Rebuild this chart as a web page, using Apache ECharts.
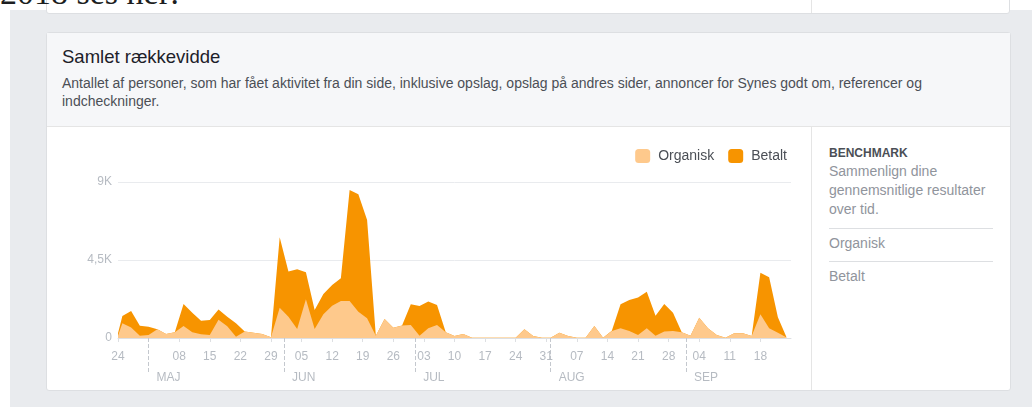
<!DOCTYPE html>
<html lang="da">
<head>
<meta charset="utf-8">
<title>Samlet rækkevidde</title>
<script src="https://cdn.jsdelivr.net/npm/echarts@6.0.0/dist/echarts.min.js"></script>
<style>
  body { margin: 0; width: 1032px; height: 407px; overflow: hidden; position: relative; background: #fff;
         font-family: "Liberation Sans", Arial, sans-serif; }
  #headline { position: absolute; z-index: 5; left: 0; top: -24px; font: 34px/34px "Liberation Serif", serif; color: #1c1e21; white-space: nowrap; }
  #bg { position: absolute; left: 10px; top: 10px; right: 0; bottom: 0; background: #e9ebee; }
  #prev { position: absolute; left: 46px; top: -10px; width: 962px; height: 22px; background: #fff;
          border: 1px solid #dddfe2; border-radius: 3px; }
  #prev .sep { position: absolute; left: 764px; top: 0; bottom: 0; border-left: 1px solid #e5e5e5; }
  #card { position: absolute; left: 46px; top: 32px; width: 963px; height: 357px; background: #fff;
          border: 1px solid #dddfe2; border-radius: 3px; }
  #head { height: 93px; background: #f6f7f9; border-bottom: 1px solid #e5e5e5; padding: 0 15px; box-sizing: content-box; }
  #head h2 { margin: 0; padding-top: 13px; font-size: 18.5px; line-height: 22px; font-weight: normal; color: #1d2129; }
  #head p { margin: 6px 0 0; font-size: 14px; line-height: 18px; color: #4b4f56; }
  #chart { position: absolute; left: 0; top: 94px; width: 764px; height: 263px; }
  #side { position: absolute; left: 764px; top: 94px; width: 182px; height: 263px; padding-left: 17px;
          border-left: 1px solid #e5e5e5; color: #90949c; }
  #side .bm { margin-top: 18px; font-size: 12px; line-height: 16px; font-weight: bold; color: #4b4f56; }
  #side .desc { font-size: 14px; line-height: 19px; margin-top: 1px; }
  #side .row { border-top: 1px solid #dddfe2; width: 164px; font-size: 14px; line-height: 19px; }
  #side .r1 { margin-top: 9px; padding: 5px 0 8px; }
  #side .r2 { padding-top: 5px; }
</style>
</head>
<body>
<div id="headline">2018 ses her:</div>
<div id="bg"></div>
<div id="prev"><div class="sep"></div></div>
<div id="card">
  <div id="head">
    <h2>Samlet rækkevidde</h2>
    <p>Antallet af personer, som har fået aktivitet fra din side, inklusive opslag, opslag på andres sider, annoncer for Synes godt om, referencer og<br>indcheckninger.</p>
  </div>
  <div id="chart"></div>
  <div id="side">
    <div class="bm">BENCHMARK</div>
    <div class="desc">Sammenlign dine<br>gennemsnitlige resultater<br>over tid.</div>
    <div class="row r1">Organisk</div>
    <div class="row r2">Betalt</div>
  </div>
</div>
<script>
// første dag på aksen
const START = Date.UTC(2018, 3, 24);
const DAY = 86400000;

const dates = [
  "2018-04-24", "2018-04-25", "2018-04-27", "2018-04-29", "2018-05-01", "2018-05-03", "2018-05-05",
  "2018-05-07", "2018-05-09", "2018-05-11", "2018-05-13", "2018-05-15", "2018-05-17", "2018-05-19",
  "2018-05-21", "2018-05-23", "2018-05-25", "2018-05-27", "2018-05-29", "2018-05-31", "2018-06-02",
  "2018-06-04", "2018-06-06", "2018-06-08", "2018-06-10", "2018-06-12", "2018-06-14", "2018-06-16",
  "2018-06-18", "2018-06-20", "2018-06-22", "2018-06-24", "2018-06-26", "2018-06-28", "2018-06-30",
  "2018-07-02", "2018-07-04", "2018-07-06", "2018-07-08", "2018-07-10", "2018-07-12", "2018-07-14",
  "2018-07-16", "2018-07-18", "2018-07-20", "2018-07-22", "2018-07-24", "2018-07-26", "2018-07-28",
  "2018-07-30", "2018-08-01", "2018-08-03", "2018-08-05", "2018-08-07", "2018-08-09", "2018-08-11",
  "2018-08-13", "2018-08-15", "2018-08-17", "2018-08-19", "2018-08-21", "2018-08-23", "2018-08-25",
  "2018-08-27", "2018-08-29", "2018-08-31", "2018-09-02", "2018-09-04", "2018-09-06", "2018-09-08",
  "2018-09-10", "2018-09-12", "2018-09-14", "2018-09-16", "2018-09-18", "2018-09-20", "2018-09-22",
  "2018-09-24",
];

const organisk = [
  130, 850, 610, 130, 170, 500, 230, 330, 690, 330, 210, 170, 1060, 680,
  75, 370, 310, 230, 40, 1750, 1230, 520, 2230, 520, 1370, 1860, 2130, 2130,
  1520, 1140, 130, 1100, 590, 720, 750, 130, 560, 750, 330, 115, 230, 20,
  10, 10, 10, 10, 10, 500, 115, 10, 10, 310, 115, 10, 10, 690,
  20, 400, 560, 400, 170, 560, 130, 370, 400, 330, 130, 1170, 560, 170,
  20, 270, 270, 115, 1370, 560, 300, 30,
];

const betalt = [
  140, 420, 950, 580, 480, 0, 0, 0, 1270, 1130, 790, 870, 590, 550,
  780, 0, 0, 0, 0, 4060, 2600, 3440, 1560, 1100, 1170, 1200, 1310, 6410,
  6770, 5670, 0, 0, 0, 0, 1190, 1720, 1540, 1150, 0, 0, 0, 0,
  0, 0, 0, 0, 0, 0, 0, 0, 0, 0, 0, 0, 0, 0,
  0, 20, 1380, 1790, 2160, 2110, 1160, 1590, 1060, 0, 0, 0, 0, 0,
  0, 0, 0, 0, 2400, 2940, 900, 0,
];

const yTicks = [0, 4500, 9000];
const yTickLabels = ["0", "4,5K", "9K"];
const monthStarts = ["2018-05-01", "2018-06-01", "2018-07-01", "2018-08-01", "2018-09-01"];
const monthLabels = ["MAJ", "JUN", "JUL", "AUG", "SEP"];

const LABEL_COLOR = "#b6bbc2";
const FONT = "Liberation Sans";

function dayOffset(s) {
  const [y, m, d] = s.split("-").map(Number);
  return Math.round((Date.UTC(y, m - 1, d) - START) / DAY);
}

function pad2(n) {
  return n < 10 ? "0" + n : String(n);
}

const monthDays = monthStarts.map(dayOffset);

// betalt ligger oven på organisk: tegnes som summen, organisk dækker bunden
const total = betalt.map((v, i) => v + organisk[i]);

function areaSeries(name, values, color, z) {
  return {
    name,
    type: "line",
    z,
    symbol: "none",
    silent: true,
    lineStyle: { width: 0 },
    itemStyle: { color },
    areaStyle: { color, opacity: 1 },
    data: values.map((v, i) => [dayOffset(dates[i]), v]),
  };
}

const option = {
  animation: false,
  textStyle: { fontFamily: FONT },
  legend: {
    right: 19,
    top: 17,
    itemWidth: 15,
    itemHeight: 14,
    itemGap: 14,
    icon: "roundRect",
    selectedMode: false,
    textStyle: { color: "#4b4f56", fontSize: 14, fontFamily: FONT, padding: [0, 0, 0, 3] },
    data: ["Organisk", "Betalt"],
  },
  grid: { left: 71, right: 20, top: 55, bottom: 52, containLabel: false },
  xAxis: [
    {
      type: "value",
      min: 0,
      max: 154,
      interval: 7,
      axisLine: { lineStyle: { color: "#dddfe2" } },
      axisTick: { length: 4, lineStyle: { color: "#dddfe2" } },
      axisLabel: {
        color: LABEL_COLOR, fontSize: 12, fontFamily: FONT, margin: 13, showMaxLabel: false,
        formatter: (v) => (monthDays.includes(v) ? "" : pad2(new Date(START + v * DAY).getUTCDate())),
      },
      splitLine: { show: false },
    },
    {
      type: "value",
      min: 0,
      max: 154,
      position: "bottom",
      axisLine: { show: false },
      axisTick: { customValues: monthDays, length: 34, lineStyle: { color: "#c4c8ce", type: "dashed" } },
      axisLabel: {
        customValues: monthDays,
        color: LABEL_COLOR, fontSize: 12, fontFamily: FONT, margin: 34, align: "left", padding: [0, 0, 0, 8],
        formatter: (v) => monthLabels[monthDays.indexOf(v)] || "",
      },
      splitLine: { show: false },
    },
  ],
  yAxis: {
    type: "value",
    min: 0,
    max: 9000,
    interval: 4500,
    axisLine: { show: false },
    axisTick: { show: false },
    axisLabel: {
      color: LABEL_COLOR, fontSize: 12, fontFamily: FONT, margin: 6,
      formatter: (v) => yTickLabels[yTicks.indexOf(v)] || "",
    },
    splitLine: { lineStyle: { color: "#e9ebee" } },
  },
  series: [
    areaSeries("Betalt", total, "#f79400", 2),
    areaSeries("Organisk", organisk, "#fec98c", 3),
  ],
};

echarts.init(document.getElementById("chart")).setOption(option);
</script>
</body>
</html>
